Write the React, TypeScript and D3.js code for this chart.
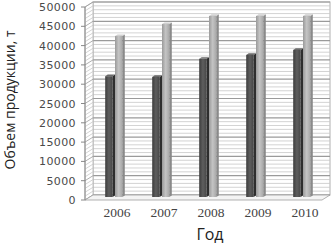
import React from "react";
import * as d3 from "d3";

const years = ["2006", "2007", "2008", "2009", "2010"];
const series1 = [31300, 31100, 35800, 36800, 38100];
const series2 = [41700, 44800, 46900, 46900, 46900];
const yTicks = [0, 5000, 10000, 15000, 20000, 25000, 30000, 35000, 40000, 45000, 50000];

const W = 331;
const H = 245;
// depth offset from back wall to front edge
const DX = -8;
const DY = 5;

export default function App() {
  const wallLeft = 93;
  const wallRight = 330;
  const y = d3.scaleLinear().domain([0, 50000]).range([195, 2]);
  const x = d3.scaleBand().domain(years).range([91.5, 326.5]);
  const inner = d3.scaleBand().domain(["a", "b"]).range([0, 47]).paddingOuter(1.4);

  const minor = d3.range(0, 50001, 1000);

  const bar = (i: number, key: string, v: number, fill: string, side: string, top: string) => {
    const x0 = (x(years[i]) as number) + (inner(key) as number);
    const w = inner.bandwidth() - 2.5;
    const base = y(0) + 2;
    const yt = y(v) + 2;
    const d = 2.5;
    const dv = 1.6;
    return (
      <g key={key + i}>
        <rect x={x0} y={yt} width={w} height={base - yt} fill={fill} />
        <path d={`M${x0 + w},${yt} L${x0 + w + d},${yt - dv} L${x0 + w + d},${base - dv} L${x0 + w},${base} Z`} fill={side} />
        <path d={`M${x0},${yt} L${x0 + d},${yt - dv} L${x0 + w + d},${yt - dv} L${x0 + w},${yt} Z`} fill={top} />
      </g>
    );
  };

  return (
    <svg width={W} height={H} style={{ position: "absolute", left: 0, top: 0, background: "#fff" }}>
      <defs>
        <linearGradient id="gDark" x1="0" x2="1" y1="0" y2="0">
          <stop offset="0" stopColor="#3c3c3c" />
          <stop offset="0.5" stopColor="#5e5e5e" />
          <stop offset="1" stopColor="#474747" />
        </linearGradient>
        <linearGradient id="gLight" x1="0" x2="1" y1="0" y2="0">
          <stop offset="0" stopColor="#9a9a9a" />
          <stop offset="0.5" stopColor="#c4c4c4" />
          <stop offset="1" stopColor="#a8a8a8" />
        </linearGradient>
      </defs>

      {/* back wall */}
      <rect x={wallLeft} y={y(50000)} width={wallRight - wallLeft} height={y(0) - y(50000)} fill="#fff" stroke="#b0b0b0" />
      {minor.map((v) => (
        <line key={"g" + v} x1={wallLeft} x2={wallRight} y1={y(v)} y2={y(v)}
          stroke={v % 5000 === 0 ? "#9a9a9a" : "#c8c8c8"} strokeWidth={v % 5000 === 0 ? 1.2 : 0.8} />
      ))}

      {/* side wall */}
      <path d={`M${wallLeft},${y(50000)} L${wallLeft + DX},${y(50000) + DY} L${wallLeft + DX},${y(0) + DY} L${wallLeft},${y(0)} Z`}
        fill="#fff" stroke="#b0b0b0" strokeWidth={0.8} />
      {minor.map((v) => (
        <line key={"s" + v} x1={wallLeft + DX} x2={wallLeft} y1={y(v) + DY} y2={y(v)}
          stroke={v % 5000 === 0 ? "#9a9a9a" : "#c8c8c8"} strokeWidth={0.8} />
      ))}

      {/* floor */}
      <path d={`M${wallLeft},${y(0)} L${wallRight},${y(0)} L${wallRight + DX},${y(0) + DY} L${wallLeft + DX},${y(0) + DY} Z`}
        fill="#f4f4f4" stroke="#a0a0a0" strokeWidth={0.8} />

      {/* bars */}
      {years.map((yr, i) => (
        <g key={yr}>
          {bar(i, "a", series1[i], "url(#gDark)", "#2e2e2e", "#6a6a6a")}
          {bar(i, "b", series2[i], "url(#gLight)", "#8a8a8a", "#d0d0d0")}
        </g>
      ))}

      {/* front axis */}
      <line x1={wallLeft + DX} x2={wallLeft + DX} y1={y(50000) + DY} y2={y(0) + DY} stroke="#888" />
      {yTicks.map((v) => (
        <g key={"t" + v}>
          <line x1={wallLeft + DX - 4} x2={wallLeft + DX} y1={y(v) + DY} y2={y(v) + DY} stroke="#888" />
          <text x={wallLeft + DX - 9} y={y(v) + DY + 4} textAnchor="end" fontFamily="DejaVu Sans" fontSize={11}
            letterSpacing={0.4} fill="#4a4a4a">{v}</text>
        </g>
      ))}

      {years.map((yr) => (
        <text key={"x" + yr} x={(x(yr) as number) + x.bandwidth() / 2 + 2} y={217} textAnchor="middle"
          fontFamily="Liberation Serif" fontSize={13.5} fill="#444">{yr}</text>
      ))}

      <text x={210} y={240} textAnchor="middle" fontFamily="Open Sans" fontSize={16} fill="#222">Год</text>
      <text transform={`translate(15,100) rotate(-90)`} textAnchor="middle" fontFamily="Open Sans" fontSize={14} fill="#222">
        Объем продукции, т
      </text>
    </svg>
  );
}
